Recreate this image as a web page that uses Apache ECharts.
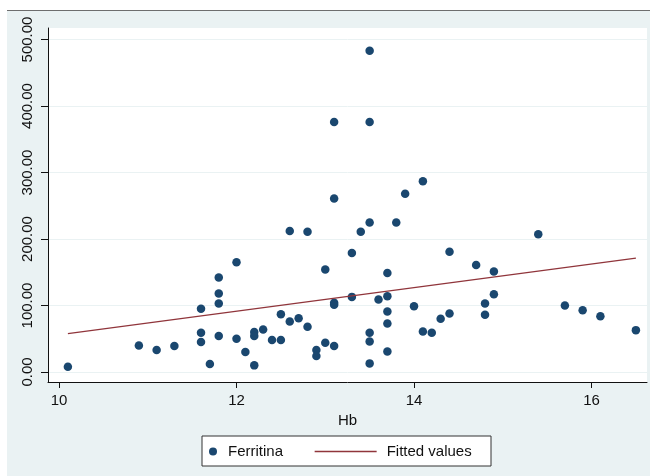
<!DOCTYPE html>
<html>
<head>
<meta charset="utf-8">
<script src="https://cdn.jsdelivr.net/npm/echarts@6/dist/echarts.min.js"></script>
<style>
html,body{margin:0;padding:0;background:#fff;}
#bg{position:absolute;left:7px;top:10px;width:643px;height:466px;background:#eaf2f3;border-top:1px solid #6e6e6e;box-sizing:border-box;}
#chart{position:absolute;left:0;top:0;width:650px;height:476px;}
</style>
</head>
<body>
<div id="bg"></div>
<div id="chart"></div>
<script>
// Data
const hb = [10.1,10.9,11.1,11.3,11.6,11.6,11.6,11.7,11.8,11.8,11.8,11.8,12.0,12.0,12.1,12.2,12.2,12.2,12.3,12.4,
  12.5,12.5,12.6,12.6,12.7,12.8,12.8,12.9,12.9,13.0,13.0,13.1,13.1,13.1,13.1,13.1,13.3,13.3,13.4,13.5,
  13.5,13.5,13.5,13.5,13.5,13.6,13.7,13.7,13.7,13.7,13.7,13.8,13.9,14.0,14.1,14.1,14.2,14.3,14.4,14.4,
  14.7,14.8,14.8,14.9,14.9,15.4,15.7,15.9,16.1,16.5];
const ferritina = [8,40,33,39,95,59,45,12,142,118,103,54,165,50,30,60,54,10,64,48,
  48,87,76,212,81,211,68,33,24,154,44,261,104,101,39,376,179,113,211,225,
  59,46,13,483,376,109,149,114,91,73,31,225,268,99,287,61,59,80,181,88,
  161,103,86,151,117,207,100,93,84,63];
const fitHb = [10.1, 16.5];
const fitValues = [57.6, 171.4];
const xTicks = [10, 12, 14, 16];
const yTicks = [0, 100, 200, 300, 400, 500];

const font = 'Liberation Sans, Arial, sans-serif';
const chart = echarts.init(document.getElementById('chart'), null, {renderer: 'canvas'});
chart.setOption({
  animation: false,
  backgroundColor: 'transparent',
  grid: {left: 48, right: 3, top: 28, bottom: 94, show: true, backgroundColor: '#ffffff', borderWidth: 0},
  xAxis: {
    type: 'value', min: 9.876, max: 16.625,
    name: 'Hb', nameLocation: 'middle', nameGap: 27,
    nameTextStyle: {fontSize: 15, color: '#111', fontFamily: font},
    axisLine: {show: true, onZero: false, lineStyle: {color: '#111', width: 1}},
    axisTick: {show: true, customValues: xTicks, length: 6, lineStyle: {color: '#111'}},
    axisLabel: {customValues: xTicks, margin: 11, fontSize: 15, color: '#111', fontFamily: font},
    splitLine: {show: false}
  },
  yAxis: {
    type: 'value', min: -15, max: 517.3,
    axisLine: {show: true, onZero: false, lineStyle: {color: '#111', width: 1}},
    axisTick: {show: true, customValues: yTicks, length: 7, lineStyle: {color: '#111'}},
    axisLabel: {customValues: yTicks, rotate: 90, margin: 13, fontSize: 15, color: '#111', fontFamily: font,
      formatter: v => v.toFixed(2)},
    splitLine: {show: true, lineStyle: {color: '#eaf2f3', width: 1}}
  },
  graphic: [{
    type: 'rect', shape: {x: 202, y: 436, width: 289, height: 30},
    style: {fill: '#ffffff', stroke: '#333333', lineWidth: 1}
  }],
  legend: [{
    data: ['Ferritina'], left: 209, top: 444, padding: 0,
    itemWidth: 8, itemHeight: 8, icon: 'circle',
    itemStyle: {opacity: 1},
    textStyle: {fontSize: 15, color: '#111', fontFamily: font, padding: [0, 0, 0, 6]}
  }, {
    data: ['Fitted values'], left: 314, top: 444, padding: 0,
    itemWidth: 62, itemHeight: 8,
    itemStyle: {opacity: 0},
    lineStyle: {color: '#90353b', width: 1.3, opacity: 1},
    textStyle: {fontSize: 15, color: '#111', fontFamily: font, padding: [0, 0, 0, 5]}
  }],
  series: [{
    name: 'Ferritina', type: 'scatter', symbolSize: 8.5,
    itemStyle: {color: '#1a476f', opacity: 1},
    data: hb.map((x, i) => [x, ferritina[i]])
  }, {
    name: 'Fitted values', type: 'line', showSymbol: false, symbol: 'none',
    lineStyle: {color: '#90353b', width: 1.3},
    itemStyle: {color: '#90353b'},
    data: fitHb.map((x, i) => [x, fitValues[i]])
  }]
});
</script>
</body>
</html>
